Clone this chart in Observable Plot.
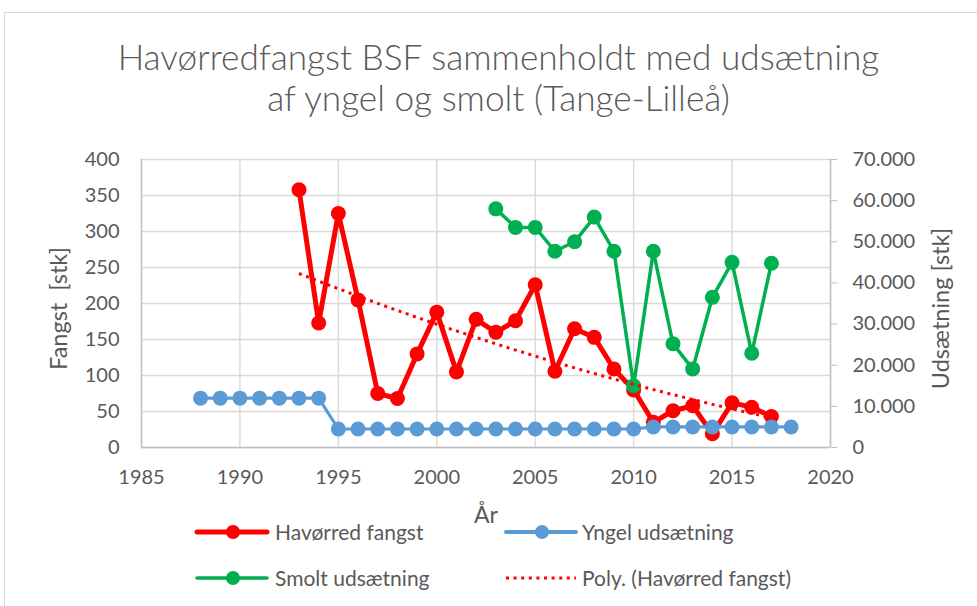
<!DOCTYPE html>
<html><head><meta charset="utf-8">
<script src="https://cdn.jsdelivr.net/npm/d3@7"></script>
<script src="https://cdn.jsdelivr.net/npm/@observablehq/plot@0.6"></script>
<style>
body{margin:0;background:#fff;}
#wrap{position:relative;width:977px;height:606px;overflow:hidden;font-family:Lato,"Open Sans",sans-serif;color:#595959;background:#fff;}
#frame{position:absolute;left:4px;top:12px;width:1000px;height:640px;border-left:1px solid #d9d9d9;border-top:1px solid #d9d9d9;}
#title{position:absolute;left:10px;top:36px;width:977px;text-align:center;font-weight:300;font-size:35.2px;line-height:41px;white-space:nowrap;}
#chart{position:absolute;left:0;top:140px;}
#chart svg{overflow:visible;}
.lg{position:absolute;font-size:21px;line-height:24px;white-space:nowrap;}
.sw{position:absolute;overflow:visible;}
</style></head>
<body>
<div id="wrap">
  <div id="frame"></div>
  <div id="title"></div>
  <div id="chart"></div>
  <div id="legend"></div>
</div>
<script>
// ---- data ----
const titleLines = ["Havørredfangst BSF sammenholdt med udsætning", "af yngel og smolt (Tange-Lilleå)"];
const fangstYears = [1993,1994,1995,1996,1997,1998,1999,2000,2001,2002,2003,2004,2005,2006,2007,2008,2009,2010,2011,2012,2013,2014,2015,2016,2017];
const fangst =      [358, 173, 325, 205, 75,  68,  130, 188, 105, 178, 160, 176, 226, 106, 165, 153, 109, 80,  35,  51,  58,  19,  62,  56,  43];
const yngelYears = [1988,1989,1990,1991,1992,1993,1994,1995,1996,1997,1998,1999,2000,2001,2002,2003,2004,2005,2006,2007,2008,2009,2010,2011,2012,2013,2014,2015,2016,2017,2018];
const yngel =      [12000,12000,12000,12000,12000,12000,12000,4500,4500,4500,4500,4500,4500,4500,4500,4500,4500,4500,4500,4500,4500,4500,4500,5000,5000,5000,5000,5000,5000,5000,5000];
const smoltYears = [2003,2004,2005,2006,2007,2008,2009,2010,2011,2012,2013,2014,2015,2016,2017];
const smolt =      [58000,53500,53500,47700,50000,56000,47700,15000,47700,25200,19100,36500,45000,22900,44800];
const xTicks = [1985,1990,1995,2000,2005,2010,2015,2020];
const yLeftTicks = [0,50,100,150,200,250,300,350,400];
const yRightLabels = ["0","10.000","20.000","30.000","40.000","50.000","60.000","70.000"];
const yRightTicks = [0,10000,20000,30000,40000,50000,60000,70000];
const seriesNames = ["Havørred fangst","Yngel udsætning","Smolt udsætning","Poly. (Havørred fangst)"];
const colors = {red:"#ff0000", blue:"#5b9bd5", green:"#00b050"};
const labels = {x:"År", yLeft:"Fangst  [stk]", yRight:"Udsætning [stk]"};

// ---- build ----
document.getElementById("title").innerHTML = titleLines.map(t => `<div>${t}</div>`).join("");

const ratio = 70000 / 400; // secondary axis -> primary axis units
const fangstData = fangstYears.map((x,i) => ({x, y: fangst[i]}));
const yngelData = yngelYears.map((x,i) => ({x, y: yngel[i] / ratio}));
const smoltData = smoltYears.map((x,i) => ({x, y: smolt[i] / ratio}));

// 2nd order polynomial least-squares trend (Excel "Poly.")
function polyFit2(xs, ys) {
  const x0 = d3.mean(xs);
  const S = [0,0,0,0,0], T = [0,0,0];
  xs.forEach((xv,i) => { const t = xv - x0; for (let k=0;k<5;k++) S[k] += t**k; for (let k=0;k<3;k++) T[k] += ys[i]*t**k; });
  const A = [[S[0],S[1],S[2],T[0]],[S[1],S[2],S[3],T[1]],[S[2],S[3],S[4],T[2]]];
  for (let c=0;c<3;c++){ for (let r=c+1;r<3;r++){ const f=A[r][c]/A[c][c]; for(let k=c;k<4;k++) A[r][k]-=f*A[c][k]; } }
  const b=[0,0,0]; for (let r=2;r>=0;r--){ let s=A[r][3]; for(let k=r+1;k<3;k++) s-=A[r][k]*b[k]; b[r]=s/A[r][r]; }
  return xv => { const t = xv - x0; return b[0] + b[1]*t + b[2]*t*t; };
}
const trendFn = polyFit2(fangstYears, fangst);
const trendData = fangstYears.map(x => ({x, y: trendFn(x)}));

const font = {fontSize: 20, fill: "#595959"};
const chart = Plot.plot({
  width: 977, height: 390,
  marginTop: 19, marginBottom: 83, marginLeft: 141, marginRight: 147,
  style: {fontFamily: "Lato, 'Open Sans', sans-serif", color: "#595959", background: "transparent", overflow: "visible"},
  x: {domain: [1985, 2020]},
  y: {domain: [0, 400]},
  marks: [
    Plot.gridY(yLeftTicks, {stroke: "#d9d9d9", strokeOpacity: 1, strokeWidth: 1.4}),
    Plot.gridX(xTicks, {stroke: "#d9d9d9", strokeOpacity: 1, strokeWidth: 1.4}),
    Plot.ruleX([1985, 2020], {stroke: "#bfbfbf", strokeWidth: 1.4}),
    Plot.ruleY([0], {stroke: "#bfbfbf", strokeWidth: 1.4}),
    Plot.axisY(yLeftTicks, {anchor: "left", tickSize: 0, tickPadding: 22, label: null, ...font}),
    Plot.axisY(yRightTicks.map(v => v / ratio), {anchor: "right", tickSize: 6, tickPadding: 16, stroke: "#bfbfbf", label: null,
      tickFormat: (d, i) => yRightLabels[i], ...font}),
    Plot.axisX(xTicks, {anchor: "bottom", tickSize: 0, tickPadding: 22, label: null, tickFormat: d => String(d), ...font}),
    Plot.text([labels.x], {frameAnchor: "bottom", dy: 75, textAnchor: "middle", ...font, fontSize: 23}),
    Plot.text([labels.yLeft], {frameAnchor: "left", dx: -82, dy: 5, rotate: -90, textAnchor: "middle", ...font, fontSize: 23.5}),
    Plot.text([labels.yRight], {frameAnchor: "right", dx: 111, dy: 5, rotate: -90, textAnchor: "middle", ...font, fontSize: 23.5}),
    Plot.line(fangstData, {x: "x", y: "y", stroke: colors.red, strokeWidth: 5}),
    Plot.dot(fangstData, {x: "x", y: "y", r: 7.5, fill: colors.red}),
    Plot.line(yngelData, {x: "x", y: "y", stroke: colors.blue, strokeWidth: 3.2}),
    Plot.dot(yngelData, {x: "x", y: "y", r: 7.5, fill: colors.blue}),
    Plot.line(smoltData, {x: "x", y: "y", stroke: colors.green, strokeWidth: 3.5}),
    Plot.dot(smoltData, {x: "x", y: "y", r: 7.5, fill: colors.green}),
    Plot.line(trendData, {x: "x", y: "y", stroke: colors.red, strokeWidth: 3, strokeDasharray: "3 4.6", strokeLinecap: "butt"})
  ]
});
document.getElementById("chart").appendChild(chart);

// ---- legend ----
const legendItems = [
  {name: seriesNames[0], color: colors.red, w: 5, dot: true, dash: null, lx: 197, tx: 275, y: 532},
  {name: seriesNames[1], color: colors.blue, w: 4, dot: true, dash: null, lx: 506, tx: 582, y: 532},
  {name: seriesNames[2], color: colors.green, w: 3.5, dot: true, dash: null, lx: 197, tx: 275, y: 578},
  {name: seriesNames[3], color: colors.red, w: 3, dot: false, dash: "3 4.6", lx: 506, tx: 582, y: 578}
];
const lg = document.getElementById("legend");
legendItems.forEach(it => {
  const sw = document.createElementNS("http://www.w3.org/2000/svg", "svg");
  sw.setAttribute("class", "sw"); sw.setAttribute("width", 72); sw.setAttribute("height", 20);
  sw.style.left = it.lx + "px"; sw.style.top = (it.y - 10) + "px";
  sw.innerHTML = `<line x1="0" x2="70" y1="10" y2="10" stroke="${it.color}" stroke-width="${it.w}" ${it.dash ? `stroke-dasharray="${it.dash}"` : `stroke-linecap="round"`}/>` +
    (it.dot ? `<circle cx="36" cy="10" r="7" fill="${it.color}"/>` : "");
  lg.appendChild(sw);
  const t = document.createElement("div");
  t.className = "lg"; t.textContent = it.name;
  t.style.left = it.tx + "px"; t.style.top = (it.y - 12) + "px";
  lg.appendChild(t);
});
</script>
</body></html>
